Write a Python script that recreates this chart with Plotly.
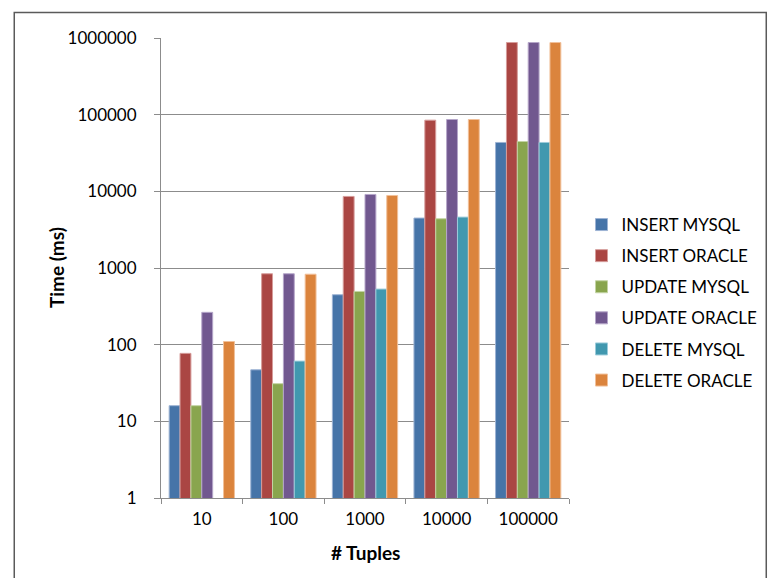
import plotly.graph_objects as go

# Number of tuples processed per run (category axis)
tuples = ["10", "100", "1000", "10000", "100000"]

# Measured execution times in milliseconds
insert_mysql = [16, 47, 448, 4480, 43400]
insert_oracle = [77, 841, 8580, 84800, 873000]
update_mysql = [16, 31, 495, 4390, 44700]
update_oracle = [264, 841, 9110, 86500, 873000]
delete_mysql = [None, 61, 531, 4610, 43400]
delete_oracle = [110, 830, 8830, 86500, 873000]

series_names = ["INSERT MYSQL", "INSERT ORACLE", "UPDATE MYSQL",
                "UPDATE ORACLE", "DELETE MYSQL", "DELETE ORACLE"]
series_values = [insert_mysql, insert_oracle, update_mysql,
                 update_oracle, delete_mysql, delete_oracle]
fill_colors = ["#4674A8", "#AA4643", "#89A54E", "#71588F", "#4198AF", "#DB843D"]
edge_colors = ["#9DB3D4", "#D69C9A", "#C3D4A4", "#B5A6C9", "#9CCBDA", "#F1C09A"]

y_ticks = [1, 10, 100, 1000, 10000, 100000, 1000000]
y_tick_text = ["1", "10", "100", "1000", "10000", "100000", "1000000"]

FONT = "Lato"
GRID = "#8C8C8C"

fig = go.Figure()
for name, vals, fc, ec in zip(series_names, series_values, fill_colors, edge_colors):
    fig.add_trace(go.Bar(
        x=tuples, y=vals, name=name, legendgroup=name,
        marker=dict(color=fc, line=dict(color=ec, width=1)),
    ))

W, H = 775, 578
ML, MR, MT, MB = 161, 190, 38, 80
pw = W - ML - MR
ph = H - MT - MB

fig.update_layout(
    width=W, height=H,
    margin=dict(l=ML, r=MR, t=MT, b=MB, pad=0),
    paper_bgcolor="white", plot_bgcolor="white",
    font=dict(family=FONT, size=17, color="#000000"),
    barmode="group", bargap=0.2, bargroupgap=0,
    showlegend=True,
    legend=dict(
        x=(598 - ML) / pw, y=(498 - 207) / ph,
        xanchor="left", yanchor="top",
        font=dict(family=FONT, size=17, color="#000000"),
        tracegroupgap=6, itemclick=False, bgcolor="rgba(0,0,0,0)",
    ),
    xaxis=dict(
        type="category", showgrid=False, showline=True, linecolor=GRID,
        linewidth=1, ticks="outside", tickson="boundaries", ticklen=5,
        tickcolor=GRID, ticklabelstandoff=6,
        tickfont=dict(family=FONT, size=17),
    ),
    yaxis=dict(
        type="log", range=[0, 6], tickvals=y_ticks, ticktext=y_tick_text,
        showgrid=True, gridcolor=GRID, gridwidth=1,
        showline=True, linecolor=GRID, linewidth=1,
        ticks="outside", ticklen=6, tickcolor=GRID, ticklabelstandoff=14,
        tickfont=dict(family=FONT, size=17), zeroline=False,
    ),
    annotations=[
        dict(text="<b>Time (ms)</b>", xref="paper", yref="paper",
             x=(52 - ML) / pw, y=(498 - 268) / ph, textangle=-90, showarrow=False,
             font=dict(family=FONT, size=19), xanchor="center", yanchor="middle"),
        dict(text="<b># Tuples</b>", xref="paper", yref="paper",
             x=(373 - ML) / pw, y=(498 - 552) / ph, showarrow=False,
             font=dict(family=FONT, size=19), xanchor="center", yanchor="middle"),
    ],
    shapes=[
        dict(type="rect", xref="paper", yref="paper",
             x0=(8.5 - ML) / pw, x1=(790 - ML) / pw,
             y0=(498 - 600) / ph, y1=(498 - 12.5) / ph,
             line=dict(color="#5A5A5A", width=1.5), fillcolor="rgba(0,0,0,0)",
             layer="below"),
    ],
)

fig.write_html("out.html")
